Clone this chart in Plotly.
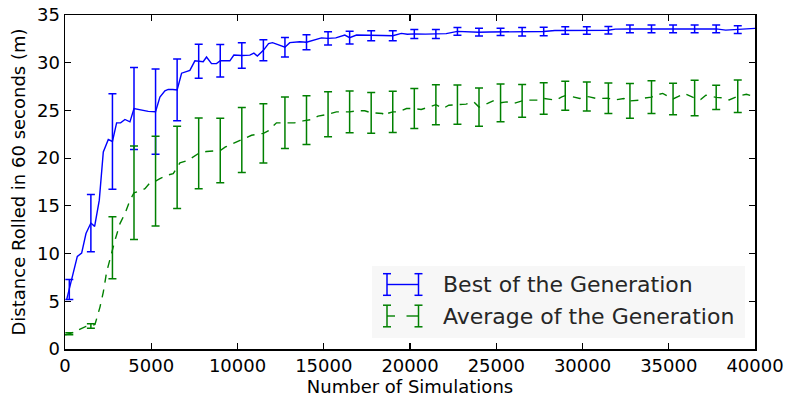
import plotly.graph_objects as go

# ---------------- data ----------------
best_x = [100, 250, 380, 714, 965, 1216, 1500, 1718, 1988, 2220, 2510, 2750, 2992, 3224,
          3475, 3765, 4000, 4250, 4500, 4826, 5250, 5502, 5792, 5985, 6250, 6500, 6758,
          7140, 7240, 7530, 7750, 8011, 8204, 8494, 8784, 9000, 9557, 9789, 10250, 10715,
          10950, 11150, 11500, 11800, 12030, 12300, 12550, 12750, 13030, 13611, 14000,
          14580, 14870, 15250, 15700, 16220, 16500, 16900, 17750, 18400, 19000, 19500,
          19850, 20250, 20900, 21500, 22100, 22750, 23400, 24000, 24600, 25250, 26500,
          27100, 27750, 28400, 29000, 30250, 31500, 31900, 32100, 32750, 34000, 35250,
          36500, 37750, 38300, 39000, 39500, 40000]
best_y = [5.2, 6.24, 7.4, 9.7, 10.05, 12.1, 13.2, 12.85, 15.6, 20.65, 21.95, 21.75, 23.7, 23.7,
          24.05, 23.8, 25.2, 25.1, 25.0, 24.9, 24.87, 26.4, 27.05, 27.2, 27.2, 27.15, 28.9,
          29.1, 29.2, 30.2, 30.15, 30.1, 30.6, 29.9, 29.9, 30.2, 30.2, 30.8, 30.75, 30.8,
          31.0, 30.7, 31.3, 32.0, 32.1, 31.9, 31.7, 31.62, 32.1, 32.2, 32.15,
          32.45, 32.6, 32.55, 32.6, 32.9, 32.63, 32.9, 32.83, 32.85, 32.83, 33.07,
          32.98, 33.02, 33.0, 33.0, 33.05, 33.28, 33.2, 33.2, 33.22, 33.23, 33.25,
          33.25, 33.27, 33.37, 33.37, 33.37, 33.4, 33.52, 33.54, 33.54, 33.54, 33.54,
          33.54, 33.54, 33.42, 33.47, 33.55, 33.6]

avg_x = [0, 250, 637, 1216, 1500, 1738, 2027, 2220, 2413, 2750, 2896, 3186, 3475, 3765, 4000,
         4440, 4634, 4923, 5250, 5502, 5890, 6273, 6500, 6661, 7140, 7750, 8200, 8784, 9000,
         9300, 9700, 10250, 10813, 11500, 11777, 12260, 12750, 13300, 13800, 14000, 14300,
         14670, 15250, 15735, 16500, 16900, 17376, 17750, 18400, 18550, 18700, 19000, 19305,
         19800, 20250, 20650, 21040, 21500, 21911, 22250, 22750, 23250, 23700, 24000, 24500,
         24900, 25250, 25600, 26000, 26500, 26900, 27400, 27750, 28450, 28800, 29000, 29450,
         29850, 30250, 30400, 30800, 31400, 31500, 31800, 32400, 32700, 32750, 33300, 33600,
         34000, 34250, 34650, 35050, 35250, 35900, 36300, 36500, 36850, 37150, 37750, 38200,
         38500, 39000, 39500, 40000]
avg_y = [1.49, 1.6, 1.87, 2.36, 2.41, 2.57, 4.39, 5.96, 8.06, 10.6, 11.38, 13.14, 14.19, 15.58, 16.37,
         16.63, 16.8, 17.4, 17.6, 17.86, 18.2, 18.38, 19.03, 19.5, 19.78, 20.5, 20.7, 20.83, 20.8,
         21.17, 21.5, 21.9, 22.4, 22.6, 22.85, 23.7, 23.7, 23.7, 23.9, 23.98, 24.05,
         24.4, 24.59, 24.85, 24.85, 24.96, 24.96, 24.75, 24.68, 24.4, 24.68, 24.85, 24.85,
         25.2, 25.2, 25.1, 25.3, 25.6, 25.2, 25.55, 25.6, 25.66, 25.9, 25.35, 25.73,
         26.08, 25.8, 25.9, 25.73, 26.0, 26.08, 26.08, 26.25, 26.08, 26.42, 26.55, 26.42,
         26.25, 26.45, 26.42, 26.25, 26.25, 26.28, 26.08, 26.25, 25.9, 26.0, 26.08, 26.3,
         26.4, 26.6, 26.78, 26.42, 26.2, 26.78, 26.5, 26.3, 26.15, 26.6, 26.37, 26.3,
         26.1, 26.48, 26.7, 26.42]

# error bars every 10 generations
bar_x = [250, 1500, 2750, 4000, 5250, 6500, 7750, 9000, 10250, 11500, 12750, 14000, 15250,
         16500, 17750, 19000, 20250, 21500, 22750, 24000, 25250, 26500, 27750, 29000, 30250,
         31500, 32750, 34000, 35250, 36500, 37750, 39000]
best_err = [1.05, 3.0, 5.0, 4.3, 4.46, 3.24, 1.78, 1.7, 1.33, 1.1, 1.03, 0.78, 0.7, 0.68, 0.52,
            0.52, 0.47, 0.47, 0.4, 0.4, 0.37, 0.45, 0.44, 0.4, 0.4, 0.4, 0.4, 0.4, 0.4, 0.4,
            0.4, 0.4]
avg_err = [0.1, 0.23, 3.25, 4.9, 4.7, 4.3, 3.7, 3.38, 3.4, 3.1, 2.7, 2.55, 2.36, 2.18, 2.13,
           2.17, 2.1, 2.1, 2.06, 2.0, 1.98, 1.71, 1.64, 1.52, 1.52, 1.6, 1.83, 1.71, 1.64, 1.85,
           1.27, 1.7]

x_ticks = [0, 5000, 10000, 15000, 20000, 25000, 30000, 35000, 40000]
y_ticks = [0, 5, 10, 15, 20, 25, 30, 35]
legend_labels = ["Best of the Generation", "Average of the Generation"]

BLUE = "#0000ff"
GREEN = "#008000"

best_at = dict(zip(best_x, best_y))
avg_at = dict(zip(avg_x, avg_y))

fig = go.Figure()
fig.add_trace(go.Scatter(x=best_x, y=best_y, mode="lines",
                         line=dict(color=BLUE, width=1.4), showlegend=False, hoverinfo="skip"))
fig.add_trace(go.Scatter(x=bar_x, y=[best_at[v] for v in bar_x], mode="markers",
                         marker=dict(size=1, color="rgba(0,0,0,0)"),
                         error_y=dict(type="data", array=best_err, color=BLUE, thickness=1.5, width=4),
                         showlegend=False, hoverinfo="skip"))
fig.add_trace(go.Scatter(x=avg_x, y=avg_y, mode="lines",
                         line=dict(color=GREEN, width=1.4, dash="8px,7px"), showlegend=False, hoverinfo="skip"))
fig.add_trace(go.Scatter(x=bar_x, y=[avg_at[v] for v in bar_x], mode="markers",
                         marker=dict(size=1, color="rgba(0,0,0,0)"),
                         error_y=dict(type="data", array=avg_err, color=GREEN, thickness=1.5, width=4),
                         showlegend=False, hoverinfo="skip"))

# ---------------- layout ----------------
ML, MR, MT, MB = 65, 33, 15, 51
W, H = 788, 400
PW, PH = W - ML - MR, H - MT - MB

def px_x(p):
    return (p - ML) / PW

def px_y(p):
    return (H - MB - p) / PH

font = "DejaVu Sans"
axis_common = dict(showline=True, linecolor="black", linewidth=1.5, mirror="allticks",
                   ticks="inside", ticklen=6, tickwidth=1.2, tickcolor="black",
                   showgrid=False, zeroline=False, automargin=False,
                   tickfont=dict(family=font, size=18, color="black"))

fig.update_xaxes(range=[0, 40000], tickvals=x_ticks, ticktext=[str(v) for v in x_ticks],
                 title=dict(text="Number of Simulations", font=dict(family=font, size=18, color="black"),
                            standoff=4),
                 **axis_common)
fig.update_yaxes(range=[0, 35], tickvals=y_ticks, ticktext=[str(v) for v in y_ticks],
                 title=dict(text="Distance Rolled in 60 seconds (m)",
                            font=dict(family=font, size=18, color="black"), standoff=6),
                 **axis_common)

shapes = []
# legend box
shapes.append(dict(type="rect", xref="paper", yref="paper",
                   x0=px_x(372), x1=px_x(745), y0=px_y(338), y1=px_y(266),
                   fillcolor="#f7f7f7", line=dict(width=0), layer="above"))

def glyph(yc, color, dashed):
    out = []
    xl, xr = 387, 418.5
    half = 10.8
    if dashed:
        segs = [(xl, 395), (406.5, xr)]
    else:
        segs = [(xl, xr)]
    for a, b in segs:
        out.append(dict(type="line", xref="paper", yref="paper", x0=px_x(a), x1=px_x(b),
                        y0=px_y(yc), y1=px_y(yc), line=dict(color=color, width=1.4), layer="above"))
    for xc in (xl, xr):
        out.append(dict(type="line", xref="paper", yref="paper", x0=px_x(xc), x1=px_x(xc),
                        y0=px_y(yc - half), y1=px_y(yc + half), line=dict(color=color, width=1.5),
                        layer="above"))
        for yy in (yc - half, yc + half):
            out.append(dict(type="line", xref="paper", yref="paper", x0=px_x(xc - 4), x1=px_x(xc + 4),
                            y0=px_y(yy), y1=px_y(yy), line=dict(color=color, width=1.5), layer="above"))
    return out

shapes += glyph(284.5, BLUE, False)
shapes += glyph(316, GREEN, True)

annotations = []
for label, yc in zip(legend_labels, (284.5, 316)):
    annotations.append(dict(text=label, xref="paper", yref="paper", x=px_x(441), y=px_y(yc),
                            xanchor="left", yanchor="middle", showarrow=False,
                            font=dict(family=font, size=22, color="#262626")))

fig.update_layout(template="none", width=W, height=H, margin=dict(l=ML, r=MR, t=MT, b=MB, autoexpand=False),
                  font=dict(family=font, color="black"),
                  paper_bgcolor="white", plot_bgcolor="white",
                  shapes=shapes, annotations=annotations, showlegend=False)

fig.write_html("out.html", config={"displayModeBar": False, "staticPlot": True},
               post_script="document.body.style.margin='0px';document.body.style.padding='0px';")
